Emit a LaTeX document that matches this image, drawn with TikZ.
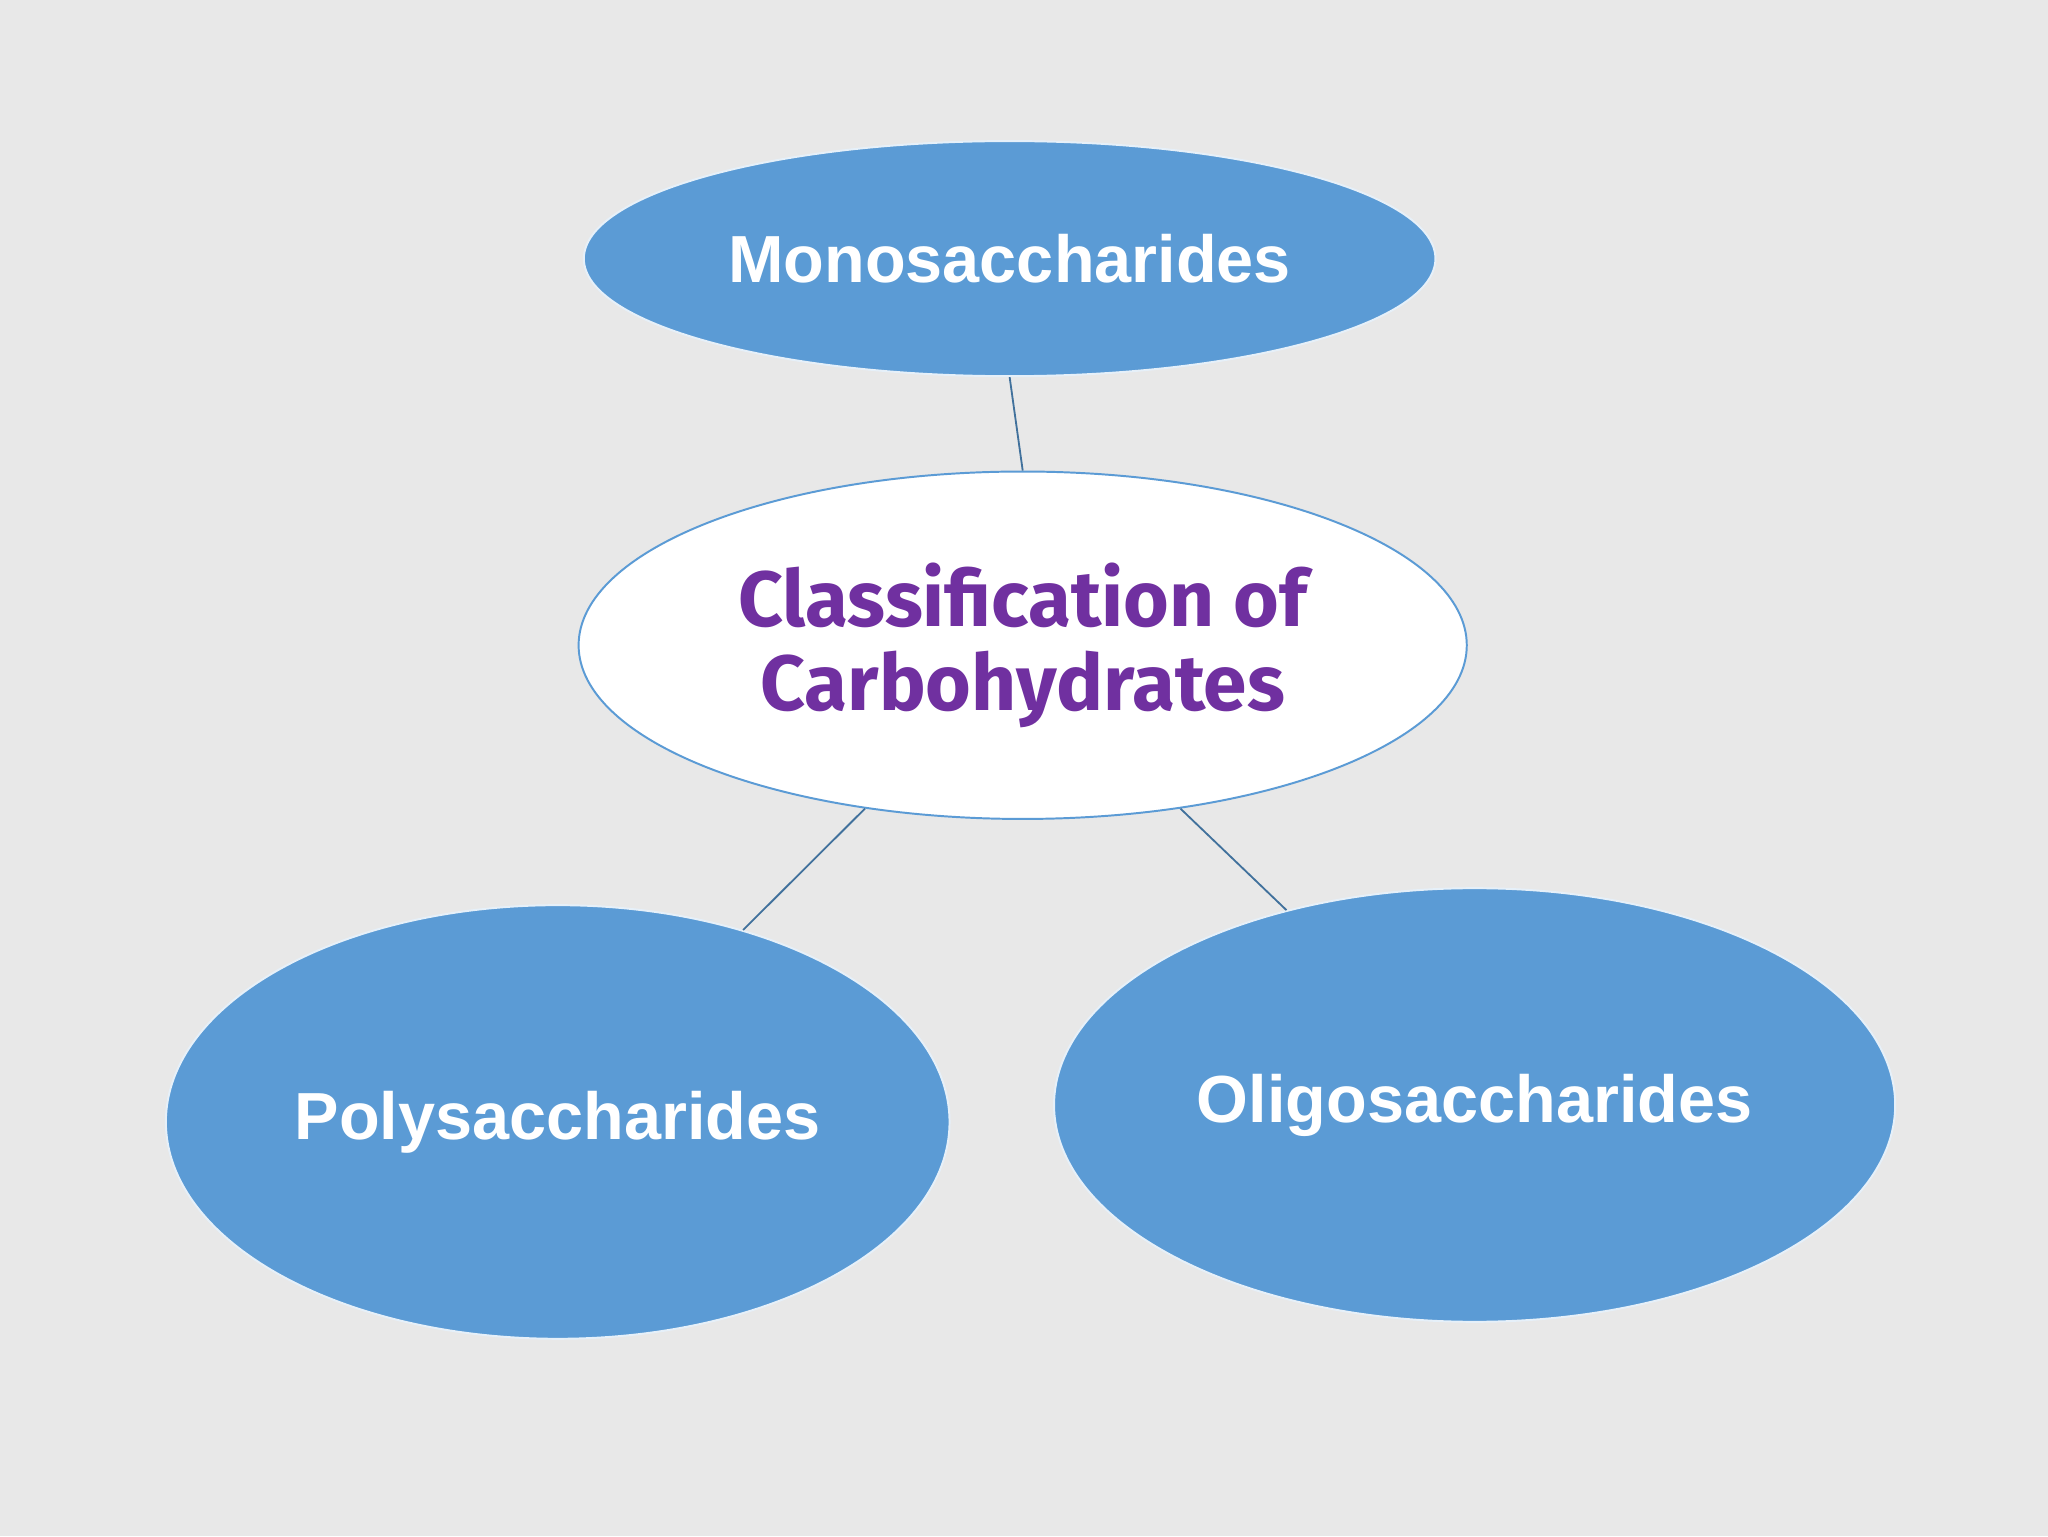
\documentclass[tikz,border=0pt]{standalone}
\usepackage{fontspec}
\setmainfont{Liberation Sans}
\newfontfamily\clsfont{Fira Sans}
\usetikzlibrary{shapes.geometric}
\definecolor{bg}{HTML}{E8E8E8}
\definecolor{blu}{HTML}{5B9BD5}
\definecolor{lin}{HTML}{41719C}
\definecolor{purp}{HTML}{7030A0}
\begin{document}
\begin{tikzpicture}[x=1pt,y=1pt,
  blob/.style={ellipse,inner sep=0pt,fill=blu,draw=white!85!blu,line width=1.5pt,text=white,font=\fontsize{51}{60}\selectfont\bfseries},
  conn/.style={draw=lin,line width=1.4pt}]
\fill[bg] (0,0) rectangle (1568,-1176);
\useasboundingbox (0,0) rectangle (1568,-1176);
\node[blob,minimum width=652pt,minimum height=180pt] (mono) at (773,-198) {Monosaccharides};
\node[ellipse,inner sep=0pt,fill=white,draw=blu,line width=1.5pt,minimum width=680pt,minimum height=266pt,text=purp,align=center,font=\clsfont\fontsize{60}{64}\selectfont\bfseries] (cls) at (783,-494) {Classification of\\Carbohydrates};
\node[blob,minimum width=600pt,minimum height=332pt] (poly) at (427,-859) {Polysaccharides};
\node[blob,minimum width=644pt,minimum height=332pt] (oligo) at (1129,-846) {Oligosaccharides};
\draw[conn] (mono.south) -- (cls.north);
\draw[conn] (cls.226) -- (poly.46);
\draw[conn] (cls.314) -- (oligo.134);
\end{tikzpicture}
\end{document}
